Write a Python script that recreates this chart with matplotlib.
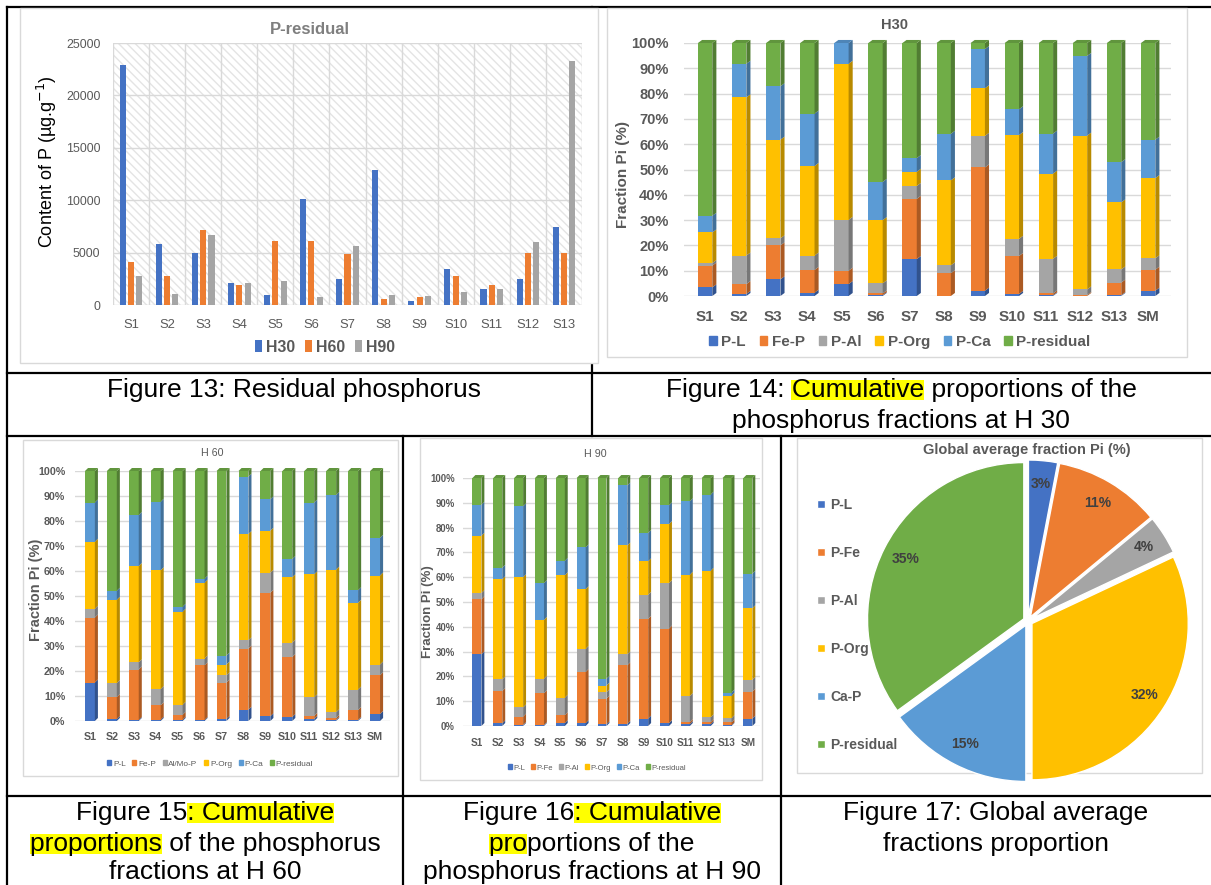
import matplotlib
matplotlib.use('Agg')
import numpy as np
import matplotlib.pyplot as plt
from matplotlib.patches import Rectangle, Polygon
from matplotlib.lines import Line2D
from matplotlib.colors import to_rgb
from matplotlib import font_manager

W, H = 1211, 885

# ---- data -------------------------------------------------------------
sites13 = ['S1', 'S2', 'S3', 'S4', 'S5', 'S6', 'S7', 'S8', 'S9', 'S10', 'S11', 'S12', 'S13']
res_h30 = [22870, 5780, 4990, 2060, 1000, 10100, 2500, 12900, 400, 3400, 1560, 2450, 7430]
res_h60 = [4100, 2800, 7200, 1900, 6130, 6130, 4860, 570, 730, 2800, 1870, 4990, 4990]
res_h90 = [2800, 1050, 6670, 2060, 2300, 800, 5650, 950, 860, 1270, 1560, 6040, 23250]

sites14 = sites13 + ['SM']

# H30 fractions (%)
pl_30 = [3.4, 0.8, 6.6, 1.3, 4.7, 0.3, 14.6, 0.0, 2.1, 0.8, 0.3, 0.0, 0.3, 2.1]
fep_30 = [8.6, 3.9, 13.4, 9.0, 5.3, 0.7, 23.8, 9.0, 48.7, 15.0, 0.7, 0.4, 5.0, 8.3]
pal_30 = [1.0, 11.3, 2.8, 5.7, 20.1, 4.0, 5.1, 3.1, 12.5, 6.8, 13.7, 2.2, 5.2, 4.5]
porg_30 = [12.1, 62.5, 39.0, 35.4, 61.7, 25.0, 5.6, 33.6, 18.8, 41.0, 33.7, 60.8, 26.5, 31.7]
pca_30 = [6.6, 13.3, 21.1, 20.7, 8.2, 15.1, 5.4, 18.4, 15.5, 10.2, 15.8, 31.5, 15.9, 15.2]
pres_30 = [68.3, 8.2, 17.1, 27.9, 0.0, 54.9, 45.5, 35.9, 2.4, 26.2, 35.8, 5.1, 47.1, 38.2]

# H60 fractions (%)
pl_60 = [15.4, 0.8, 0.4, 0.5, 0.5, 0.4, 0.8, 4.5, 1.9, 1.6, 0.8, 0.4, 0.4, 2.8]
fep_60 = [26.0, 8.8, 20.2, 5.8, 2.0, 21.9, 14.6, 24.5, 49.4, 24.0, 1.3, 0.8, 4.0, 15.5]
pal_60 = [3.5, 5.6, 2.9, 6.5, 4.0, 2.7, 2.9, 3.3, 8.0, 5.8, 7.4, 2.3, 8.2, 4.3]
porg_60 = [26.8, 33.3, 38.5, 47.5, 37.2, 30.3, 4.3, 42.5, 16.8, 26.1, 49.2, 57.1, 34.7, 35.6]
pca_60 = [15.7, 3.6, 20.4, 27.4, 2.0, 1.6, 3.6, 22.9, 12.6, 7.3, 28.7, 29.8, 5.0, 15.1]
pres_60 = [12.6, 47.9, 17.6, 12.3, 54.3, 43.1, 73.8, 2.3, 11.3, 35.2, 12.6, 9.6, 47.7, 26.7]

# H90 fractions (%)
pl_90 = [28.9, 1.1, 0.4, 0.4, 1.2, 1.2, 0.7, 0.8, 3.0, 1.2, 0.8, 0.8, 0.3, 3.0]
fep_90 = [22.2, 13.0, 3.4, 12.8, 3.2, 20.6, 10.3, 23.7, 40.2, 38.1, 0.8, 0.8, 1.2, 10.9]
pal_90 = [2.5, 4.7, 3.7, 5.9, 7.0, 9.3, 2.6, 4.4, 9.7, 18.3, 10.5, 1.9, 1.7, 4.7]
porg_90 = [23.1, 40.4, 52.5, 23.7, 49.4, 24.1, 2.7, 43.9, 13.5, 23.8, 48.9, 59.1, 9.0, 28.9]
pca_90 = [12.5, 4.6, 28.6, 14.8, 5.8, 16.8, 2.7, 24.2, 11.4, 7.6, 29.6, 30.7, 1.3, 13.9]
pres_90 = [10.8, 36.2, 11.4, 42.4, 33.4, 28.0, 81.0, 3.0, 22.2, 11.0, 9.4, 6.7, 86.5, 38.6]

labels_30 = ['P-L', 'Fe-P', 'P-Al', 'P-Org', 'P-Ca', 'P-residual']
labels_60 = ['P-L', 'Fe-P', 'Al/Mo-P', 'P-Org', 'P-Ca', 'P-residual']
labels_90 = ['P-L', 'P-Fe', 'P-Al', 'P-Org', 'P-Ca', 'P-residual']

pie_labels = ['P-L', 'P-Fe', 'P-Al', 'P-Org', 'Ca-P', 'P-residual']
pie_values = [3, 11, 4, 32, 15, 35]

colors = ['#4472C4', '#ED7D31', '#A5A5A5', '#FFC000', '#5B9BD5', '#70AD47']
GREY = '#595959'

names = {f.name for f in font_manager.fontManager.ttflist}
SANS = 'Liberation Sans'
if 'Liberation Sans Narrow' in names:
    NARROW, NF = 'Liberation Sans Narrow', 1.0
else:
    NARROW, NF = 'Liberation Sans', 0.85

fig = plt.figure(figsize=(W / 100, H / 100), dpi=100)


def px_axes(x0, y0, x1, y1):
    return fig.add_axes([x0 / W, 1 - y1 / H, (x1 - x0) / W, (y1 - y0) / H])


def ftext(x, y, s, **kw):
    return fig.text(x / W, 1 - y / H, s, ha='center', va='center', **kw)


def darker(c, f):
    return tuple(np.array(to_rgb(c)) * f)


def stack3d(ax, series, w, dx, dy):
    x = np.arange(len(sites14))
    bottom = np.zeros(len(x))
    top_col = [colors[0]] * len(x)
    for vals, col in zip(series, colors):
        vals = np.asarray(vals, float)
        ax.bar(x, vals, w, bottom=bottom, color=col, linewidth=0, zorder=3)
        side = darker(col, 0.72)
        for xi, b, v in zip(x, bottom, vals):
            if v <= 0:
                continue
            ax.add_patch(Polygon([(xi + w / 2, b), (xi + w / 2 + dx, b + dy),
                                  (xi + w / 2 + dx, b + v + dy), (xi + w / 2, b + v)],
                                 closed=True, fc=side, ec='none', zorder=3, clip_on=False))
            top_col[xi] = col
        bottom += vals
    for xi, b, c in zip(x, bottom, top_col):
        ax.add_patch(Polygon([(xi - w / 2, b), (xi - w / 2 + dx, b + dy),
                              (xi + w / 2 + dx, b + dy), (xi + w / 2, b)],
                             closed=True, fc=darker(c, 0.86), ec='none', zorder=3, clip_on=False))
    ax.set_ylim(0, 100)
    ax.set_yticks(np.arange(0, 101, 10))
    ax.set_yticklabels([f'{v}%' for v in range(0, 101, 10)])
    ax.set_xticks(x)
    ax.set_xticklabels(sites14)
    ax.yaxis.grid(True, color='#d9d9d9', lw=1)
    ax.set_axisbelow(True)
    for sp in ax.spines.values():
        sp.set_visible(False)


def chart_box(x0, y0, x1, y1):
    fig.add_artist(Rectangle((x0 / W, 1 - y1 / H), (x1 - x0) / W, (y1 - y0) / H,
                             transform=fig.transFigure, fc='white', ec='#d9d9d9',
                             lw=1, zorder=-1))


def hline(y, x0, x1):
    fig.add_artist(Line2D([x0 / W, x1 / W], [1 - y / H, 1 - y / H], color='black',
                          lw=1.6, transform=fig.transFigure, zorder=-2))


def vline(x, y0, y1):
    fig.add_artist(Line2D([x / W, x / W], [1 - y0 / H, 1 - y1 / H], color='black',
                          lw=1.6, transform=fig.transFigure, zorder=-2))


# ---- table grid -------------------------------------------------------
hline(7, 7, W)
hline(373, 7, W)
hline(436, 7, W)
hline(796, 7, W)
vline(7, 7, H)
vline(592, 7, 436)
vline(403, 436, H)
vline(781, 436, H)

chart_box(20, 8, 598, 363)
chart_box(607, 8, 1187, 357)
chart_box(23, 440, 398, 776)
chart_box(420, 438, 762, 780)
chart_box(797, 438, 1202, 773)

# ---- Figure 13: residual phosphorus -----------------------------------
ax13 = px_axes(113, 43, 582, 305)
x13 = np.arange(len(sites13))
for off, vals, col, lab in zip([-0.23, 0.0, 0.23], [res_h30, res_h60, res_h90],
                               colors[:3], ['H30', 'H60', 'H90']):
    ax13.bar(x13 + off, vals, 0.17, color=col, label=lab, zorder=3, linewidth=0)
ax13.add_patch(Rectangle((0, 0), 1, 1, transform=ax13.transAxes, fill=False,
                         hatch='\\\\\\\\', ec='#e4e4e4', lw=0, zorder=0))
ax13.set_xlim(-0.5, 12.5)
ax13.set_ylim(0, 25000)
ax13.set_yticks(np.arange(0, 25001, 5000))
ax13.set_xticks(x13)
ax13.set_xticklabels(sites13)
ax13.set_xticks(np.arange(-0.5, 13, 1), minor=True)
ax13.grid(which='minor', axis='x', color='#d9d9d9', lw=1)
ax13.grid(which='major', axis='y', color='#d9d9d9', lw=1)
ax13.set_axisbelow(True)
for sp in ax13.spines.values():
    sp.set_visible(False)
ax13.tick_params(which='both', length=0)
ax13.tick_params(axis='y', pad=9, labelcolor=GREY, labelsize=10.5 * NF)
ax13.tick_params(axis='x', pad=10, labelcolor=GREY, labelsize=11 * NF)
for t in ax13.get_xticklabels() + ax13.get_yticklabels():
    t.set_family(NARROW)
leg = ax13.legend(loc='center', bbox_to_anchor=(325 / W, 1 - 347 / H),
                  bbox_transform=fig.transFigure, ncol=3, frameon=False,
                  handlelength=0.45, handleheight=0.75, handletextpad=0.25,
                  columnspacing=0.6,
                  prop=dict(family=NARROW, weight='bold', size=13.5 * NF))
for t in leg.get_texts():
    t.set_color(GREY)
ftext(310, 29, 'P-residual', fontsize=12, fontweight='bold', color='#7f7f7f', family=SANS)
ftext(47, 162, 'Content of P (µg.g$^{-1}$)', fontsize=13, rotation=90, color='black',
      family=SANS)

# ---- Figure 14: H30 ---------------------------------------------------
ax14 = px_axes(684, 43, 1171, 296)
stack3d(ax14, [pl_30, fep_30, pal_30, porg_30, pca_30, pres_30], 0.42, 0.12, 1.2)
ax14.set_xlim(-0.62, 13.67)
ax14.tick_params(length=0, labelcolor=GREY)
ax14.tick_params(axis='y', pad=11, labelsize=10.5)
ax14.tick_params(axis='x', pad=10, labelsize=11)
for t in ax14.get_xticklabels() + ax14.get_yticklabels():
    t.set_fontweight('bold')
    t.set_family(SANS)
handles = [Rectangle((0, 0), 1, 1, color=c) for c in colors]
leg = ax14.legend(handles, labels_30, loc='center', bbox_to_anchor=(900 / W, 1 - 342 / H),
                  bbox_transform=fig.transFigure, ncol=6, frameon=False,
                  handlelength=0.5, handleheight=0.5, handletextpad=0.3,
                  columnspacing=0.9, prop=dict(family=SANS, weight='bold', size=11))
for t in leg.get_texts():
    t.set_color(GREY)
ftext(894, 25, 'H30', fontsize=10.5, fontweight='bold', color=GREY, family=SANS)
ftext(623, 174, 'Fraction Pi (%)', fontsize=11, fontweight='bold', rotation=90,
      color=GREY, family=SANS)

# ---- Figure 15: H60 ---------------------------------------------------
ax15 = px_axes(75, 471, 390, 721)
stack3d(ax15, [pl_60, fep_60, pal_60, porg_60, pca_60, pres_60], 0.45, 0.14, 1.2)
ax15.set_xlim(-0.68, 13.68)
ax15.tick_params(length=0, labelcolor=GREY)
ax15.tick_params(axis='y', pad=7, labelsize=9 * NF)
ax15.tick_params(axis='x', pad=8, labelsize=9 * NF)
for t in ax15.get_xticklabels() + ax15.get_yticklabels():
    t.set_fontweight('bold')
    t.set_family(NARROW)
leg = ax15.legend(handles, labels_60, loc='center', bbox_to_anchor=(210 / W, 1 - 764 / H),
                  bbox_transform=fig.transFigure, ncol=6, frameon=False,
                  handlelength=0.5, handleheight=0.6, handletextpad=0.2,
                  columnspacing=0.8, prop=dict(family=NARROW, size=7 * NF))
for t in leg.get_texts():
    t.set_color(GREY)
ftext(212, 453, 'H 60', fontsize=9 * NF, color=GREY, family=NARROW)
ftext(36, 590, 'Fraction Pi (%)', fontsize=10.5, fontweight='bold', rotation=90,
      color=GREY, family=NARROW)

# ---- Figure 16: H90 ---------------------------------------------------
ax16 = px_axes(463, 478, 760, 726)
stack3d(ax16, [pl_90, fep_90, pal_90, porg_90, pca_90, pres_90], 0.43, 0.14, 1.2)
ax16.set_xlim(-0.67, 13.58)
ax16.tick_params(length=0, labelcolor=GREY)
ax16.tick_params(axis='y', pad=6, labelsize=8.2 * NF)
ax16.tick_params(axis='x', pad=8.5, labelsize=8.5 * NF)
for t in ax16.get_xticklabels() + ax16.get_yticklabels():
    t.set_fontweight('bold')
    t.set_family(NARROW)
leg = ax16.legend(handles, labels_90, loc='center', bbox_to_anchor=(597 / W, 1 - 768 / H),
                  bbox_transform=fig.transFigure, ncol=6, frameon=False,
                  handlelength=0.5, handleheight=0.6, handletextpad=0.2,
                  columnspacing=0.8, prop=dict(family=NARROW, size=6.5 * NF))
for t in leg.get_texts():
    t.set_color(GREY)
ftext(595, 454, 'H 90', fontsize=9 * NF, color=GREY, family=NARROW)
ftext(428, 612, 'Fraction Pi (%)', fontsize=9.5, fontweight='bold', rotation=90,
      color=GREY, family=NARROW)

# ---- Figure 17: pie -----------------------------------------------------
ax17 = px_axes(867, 460, 1189, 782)
wedges, _, autotexts = ax17.pie(pie_values, colors=colors, startangle=90, counterclock=False,
                                explode=[0.03] * len(pie_values), autopct='%1.0f%%',
                                pctdistance=0.85,
                                wedgeprops=dict(edgecolor='white', linewidth=1))
for t in autotexts:
    t.set_color('#404040')
    t.set_fontsize(10)
    t.set_fontweight('bold')
    t.set_family(SANS)
ax17.set_xlim(-1.03, 1.03)
ax17.set_ylim(-1.03, 1.03)
ax17.set_aspect('equal')
leg = ax17.legend(wedges, pie_labels, loc='center left', bbox_to_anchor=(805 / W, 1 - 625 / H),
                  bbox_transform=fig.transFigure, frameon=False, labelspacing=2.45,
                  handlelength=0.55, handleheight=0.55, handletextpad=0.35,
                  prop=dict(family=SANS, weight='bold', size=10))
for t in leg.get_texts():
    t.set_color(GREY)
ftext(1027, 450, 'Global average fraction Pi (%)', fontsize=10.5, fontweight='bold',
      color=GREY, family=SANS)

# ---- captions ----------------------------------------------------------
CAP_FS = 19
renderer = fig.canvas.get_renderer()


def text_width(s):
    if not s:
        return 0.0
    probe = fig.text(0, 0, s + '|', fontsize=CAP_FS, family=SANS)
    bar = fig.text(0, 0, '|', fontsize=CAP_FS, family=SANS)
    w = probe.get_window_extent(renderer).width - bar.get_window_extent(renderer).width
    probe.remove()
    bar.remove()
    return w


def caption(cx, cy, pieces):
    full = ''.join(s for s, _ in pieces)
    t = ftext(cx, cy, full, fontsize=CAP_FS, family=SANS, color='black', zorder=5)
    bb = t.get_window_extent(renderer)
    prefix = ''
    for s, hl in pieces:
        if hl:
            a = bb.x0 + text_width(prefix)
            b = bb.x0 + text_width(prefix + s)
            hgt = bb.height * 0.86
            y0 = bb.y0 + (bb.height - hgt) / 2
            fig.add_artist(Rectangle((a / W, y0 / H), (b - a) / W, hgt / H,
                                     transform=fig.transFigure, fc='#ffff00', ec='none',
                                     zorder=4))
        prefix += s


caption(294, 390, [('Figure 13: Residual phosphorus', False)])
caption(901, 390, [('Figure 14: ', False), ('Cumulative', True), (' proportions of the', False)])
caption(901, 421, [('phosphorus fractions at H 30', False)])

caption(205, 813, [('Figure 15', False), (': Cumulative', True)])
caption(205, 844, [('proportions', True), (' of the phosphorus', False)])
caption(205, 872, [('fractions at H 60', False)])

caption(592, 813, [('Figure 16', False), (': Cumulative', True)])
caption(592, 844, [('pro', True), ('portions of the', False)])
caption(592, 872, [('phosphorus fractions at H 90', False)])

caption(996, 813, [('Figure 17: Global average', False)])
caption(996, 844, [('fractions proportion', False)])

fig.savefig('out.png', dpi=100)
